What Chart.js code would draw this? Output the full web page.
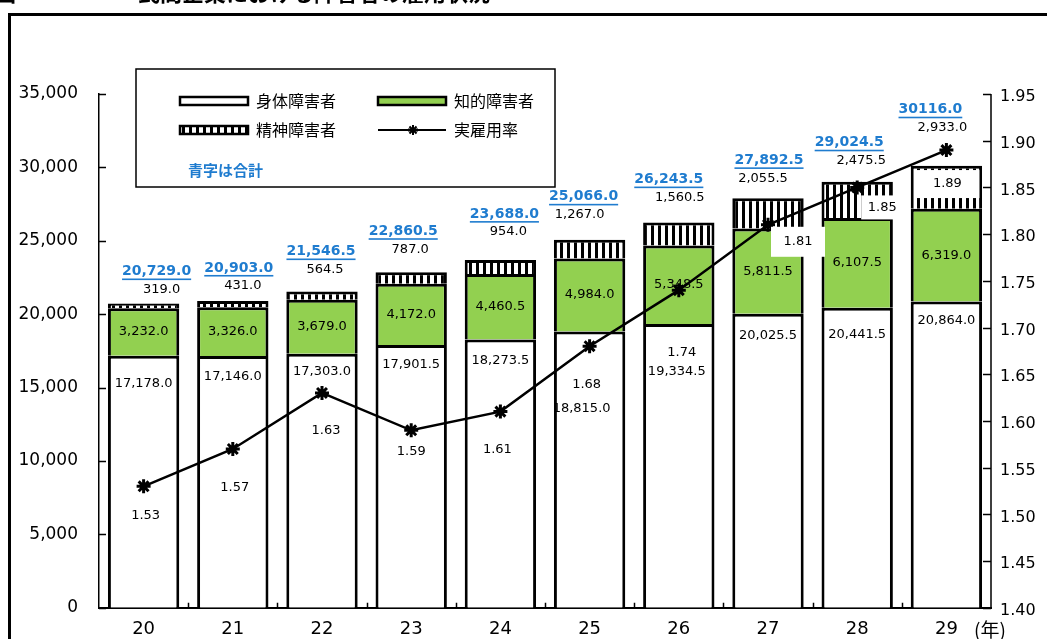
<!DOCTYPE html>
<html lang="ja">
<head>
<meta charset="utf-8">
<script src="https://cdn.jsdelivr.net/npm/chart.js@4/dist/chart.umd.min.js"></script>
<style>
  html, body { margin: 0; padding: 0; background: #fff; }
  #graphique { display: block; }
</style>
</head>
<body>
<canvas id="graphique" width="1047" height="639"></canvas>
<script>
// Années (Heisei) et effectifs par type de handicap
const annees = ["20", "21", "22", "23", "24", "25", "26", "27", "28", "29"];
const physique = [17178.0, 17146.0, 17303.0, 17901.5, 18273.5, 18815.0, 19334.5, 20025.5, 20441.5, 20864.0];
const intellectuel = [3232.0, 3326.0, 3679.0, 4172.0, 4460.5, 4984.0, 5348.5, 5811.5, 6107.5, 6319.0];
const mental = [319.0, 431.0, 564.5, 787.0, 954.0, 1267.0, 1560.5, 2055.5, 2475.5, 2933.0];
const totaux = ["20,729.0", "20,903.0", "21,546.5", "22,860.5", "23,688.0", "25,066.0", "26,243.5", "27,892.5", "29,024.5", "30116.0"];
// Taux d'emploi réel (%)
const taux = [1.53, 1.57, 1.63, 1.59, 1.61, 1.68, 1.74, 1.81, 1.85, 1.89];

// Petits décalages des étiquettes (px) pour éviter la courbe
const decalPhysique = [28, 21, 18, 20, 21, 77, 48, 22, 27, 19];
const decalPhysiqueX = [0, 0, 0, 0, 0, -8, -2, 0, 0, 0];
const decalMental = [14, 15, 22, 23, 28, 25, 25, 20, 21, 38];
const decalMentalX = [18, 10, 3, -1, 8, -10, 1, -5, 4, -4];
const decalTotalX = [13, 6, -1, -8, 4, -6, -10, 1, -8, -16];
const decalTaux = [[2, 29], [2, 39], [4, 38], [0, 21], [-3, 38], [-3, 38], [3, 62], [30, 17], [25, 20], [1, 34]];
const cadreTaux = [null, null, null, null, null, null, null, [54, 30], [42, 24], [64, 28]];

const BLEU = "#1f7ccf";
const VERT = "#92d050";
const chiffres = "'DejaVu Sans', sans-serif";
const japonais = "'Noto Sans CJK JP', sans-serif";

const canvas = document.querySelector("#graphique");
const ctx = canvas.getContext("2d");

// Motif à rayures verticales pour les handicapés mentaux
function motifRayures() {
    const c = document.createElement("canvas");
    c.width = 7;
    c.height = 10;
    const cx = c.getContext("2d");
    cx.fillStyle = "#fff";
    cx.fillRect(0, 0, 7, 10);
    cx.fillStyle = "#000";
    cx.fillRect(0, 0, 3, 10);
    return ctx.createPattern(c, "repeat");
}
const rayures = motifRayures();

function texte(c, t, x, y, font, couleur, align) {
    c.font = font;
    c.fillStyle = couleur || "#000";
    c.textAlign = align || "center";
    c.textBaseline = "middle";
    c.fillText(t, x, y);
}

const etiquettes = {
    id: "etiquettes",
    beforeDraw(chart) {
        const c = chart.ctx;
        c.save();
        // cadre extérieur
        c.strokeStyle = "#000";
        c.lineWidth = 3;
        c.strokeRect(9.5, 14.5, 2000, 2000);
        // titre (coupé en haut)
        c.font = "bold 22px " + japonais;
        c.fillStyle = "#000";
        c.textBaseline = "alphabetic";
        c.textAlign = "left";
        c.fillText("図", -6, 1);
        c.fillText("民間企業における障害者の雇用状況", 138, 1);
        c.restore();
    },
    beforeDatasetsDraw(chart) {
        const c = chart.ctx;
        const { left, right, top, bottom } = chart.chartArea;
        c.save();
        c.strokeStyle = "#000";
        c.lineWidth = 1.5;
        c.beginPath();
        // graduations vers l'intérieur
        chart.scales.y.ticks.forEach(t => {
            const y = Math.round(chart.scales.y.getPixelForValue(t.value)) + 0.5;
            c.moveTo(left, y); c.lineTo(left + 7, y);
        });
        chart.scales.y1.ticks.forEach(t => {
            const y = Math.round(chart.scales.y1.getPixelForValue(t.value)) + 0.5;
            c.moveTo(right, y); c.lineTo(right - 8, y);
        });
        const pas = (right - left) / annees.length;
        for (let i = 1; i < annees.length; i++) {
            const x = Math.round(left + pas * i) + 0.5;
            c.moveTo(x, bottom); c.lineTo(x, bottom - 5);
        }
        c.moveTo(right, top); c.lineTo(right, bottom);
        c.stroke();
        c.restore();
    },
    afterDatasetDraw(chart, args) {
        const c = chart.ctx;
        const meta = args.meta;
        if (meta.type !== "bar") return;
        c.save();
        const police = "13px " + chiffres;
        meta.data.forEach((barre, i) => {
            if (args.index === 0) {
                texte(c, physique[i].toLocaleString("en-US", { minimumFractionDigits: 1 }),
                    barre.x + decalPhysiqueX[i], barre.y + decalPhysique[i], police);
            } else if (args.index === 1) {
                texte(c, intellectuel[i].toLocaleString("en-US", { minimumFractionDigits: 1 }),
                    barre.x, (barre.y + barre.base) / 2, police);
            } else {
                const y = barre.y - decalMental[i];
                texte(c, mental[i].toLocaleString("en-US", { minimumFractionDigits: 1 }),
                    barre.x + decalMentalX[i], y, police);
                // total en bleu souligné
                const xt = barre.x + decalTotalX[i];
                const yt = y - 18;
                texte(c, totaux[i], xt, yt, "bold 14px " + chiffres, BLEU);
                const l = c.measureText(totaux[i]).width;
                c.fillStyle = BLEU;
                c.fillRect(xt - l / 2, yt + 7, l, 1.6);
            }
        });
        c.restore();
    },
    afterDatasetsDraw(chart) {
        const c = chart.ctx;
        c.save();
        // étiquettes du taux
        const points = chart.getDatasetMeta(3).data;
        points.forEach((p, i) => {
            const x = p.x + decalTaux[i][0];
            const y = p.y + decalTaux[i][1];
            if (cadreTaux[i]) {
                const [w, h] = cadreTaux[i];
                c.fillStyle = "#fff";
                c.fillRect(x - w / 2, y - h / 2, w, h);
            }
            texte(c, taux[i].toFixed(2), x, y, "13px " + chiffres);
        });

        // légende
        c.strokeStyle = "#000";
        c.lineWidth = 1.5;
        c.fillStyle = "#fff";
        c.fillRect(136, 69, 419, 118);
        c.strokeRect(136, 69, 419, 118);
        const ds = chart.data.datasets;
        const cases = [[180, 101, 0], [378, 101, 1], [180, 130, 2]];
        cases.forEach(([x, y, k]) => {
            c.fillStyle = ds[k].backgroundColor;
            c.fillRect(x, y - 4, 68, 8);
            c.lineWidth = 2.5;
            c.strokeRect(x, y - 4, 68, 8);
            texte(c, ds[k].label, x + 76, y, "16px " + japonais, "#000", "left");
        });
        c.lineWidth = 2;
        c.beginPath();
        c.moveTo(378, 130); c.lineTo(446, 130);
        c.stroke();
        Chart.helpers.drawPoint(c, { pointStyle: "star", radius: 5, borderWidth: 3 }, 413, 130);
        c.strokeStyle = "#000";
        c.lineWidth = 3;
        c.beginPath();
        c.moveTo(408, 130); c.lineTo(418, 130);
        c.stroke();
        texte(c, ds[3].label, 454, 130, "16px " + japonais, "#000", "left");
        texte(c, "青字は合計", 188, 170, "bold 15px " + japonais, BLEU, "left");

        // unité de l'axe des abscisses
        texte(c, "(年)", 990, 630, "19px " + japonais, "#000");
        c.restore();
    }
};

const config = {
    type: "bar",
    data: {
        labels: annees,
        datasets: [{
            label: "身体障害者",
            data: physique,
            backgroundColor: "#fff",
            borderColor: "#000",
            borderWidth: 3,
            stack: "effectifs",
            order: 1,
        }, {
            label: "知的障害者",
            data: intellectuel,
            backgroundColor: VERT,
            borderColor: "#000",
            borderWidth: 3,
            stack: "effectifs",
            order: 1,
        }, {
            label: "精神障害者",
            data: mental,
            backgroundColor: rayures,
            borderColor: "#000",
            borderWidth: 3,
            stack: "effectifs",
            order: 1,
        }, {
            type: "line",
            label: "実雇用率",
            data: taux,
            yAxisID: "y1",
            borderColor: "#000",
            borderWidth: 2.5,
            tension: 0,
            pointStyle: "star",
            pointRadius: 7,
            pointBorderWidth: 3,
            pointBorderColor: "#000",
            pointBackgroundColor: "#000",
            order: 0,
        }],
    },
    options: {
        responsive: false,
        animation: false,
        categoryPercentage: 0.8,
        barPercentage: 1.0,
        layout: { padding: { top: 94 } },
        plugins: {
            legend: { display: false },
            tooltip: { enabled: false },
        },
        scales: {
            x: {
                stacked: true,
                grid: { display: false, drawTicks: false },
                border: { color: "#000", width: 2 },
                ticks: { color: "#000", font: { family: chiffres, size: 18 }, padding: 11 },
                afterFit: s => { s.height = 27; },
            },
            y: {
                stacked: true,
                min: 0,
                max: 35000,
                grid: { display: false, drawTicks: false },
                border: { color: "#000", width: 1.5 },
                ticks: {
                    stepSize: 5000,
                    color: "#000",
                    font: { family: chiffres, size: 17 },
                    padding: 21,
                    callback: v => v.toLocaleString("en-US"),
                },
                afterFit: s => { s.width = 99; },
            },
            y1: {
                position: "right",
                min: 1.40,
                max: 1.95,
                grid: { display: false, drawTicks: false },
                border: { display: false },
                ticks: {
                    stepSize: 0.05,
                    color: "#000",
                    font: { family: chiffres, size: 16 },
                    padding: 9,
                    labelOffset: 3,
                    callback: v => v.toFixed(2),
                },
                afterFit: s => { s.width = 56; },
            },
        },
    },
    plugins: [etiquettes],
};

new Chart(canvas, config);
</script>
</body>
</html>
